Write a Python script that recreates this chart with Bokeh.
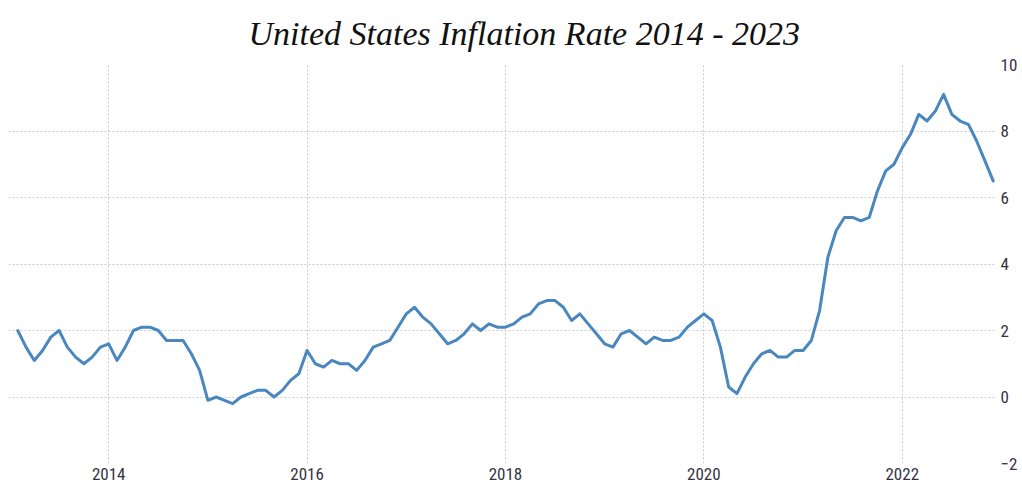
from bokeh.plotting import figure
from bokeh.models import Range1d, FixedTicker
from bokeh.embed import file_html
from bokeh.resources import INLINE

# Monthly US CPI inflation rate (%), Feb 2013 .. Dec 2022
start_year = 2013
start_month = 2
rates = [
    2.0, 1.5, 1.1, 1.4, 1.8, 2.0, 1.5, 1.2, 1.0, 1.2, 1.5,            # 2013 (Feb-Dec)
    1.6, 1.1, 1.5, 2.0, 2.1, 2.1, 2.0, 1.7, 1.7, 1.7, 1.3, 0.8,       # 2014
    -0.1, 0.0, -0.1, -0.2, 0.0, 0.1, 0.2, 0.2, 0.0, 0.2, 0.5, 0.7,    # 2015
    1.4, 1.0, 0.9, 1.1, 1.0, 1.0, 0.8, 1.1, 1.5, 1.6, 1.7, 2.1,       # 2016
    2.5, 2.7, 2.4, 2.2, 1.9, 1.6, 1.7, 1.9, 2.2, 2.0, 2.2, 2.1,       # 2017
    2.1, 2.2, 2.4, 2.5, 2.8, 2.9, 2.9, 2.7, 2.3, 2.5, 2.2, 1.9,       # 2018
    1.6, 1.5, 1.9, 2.0, 1.8, 1.6, 1.8, 1.7, 1.7, 1.8, 2.1, 2.3,       # 2019
    2.5, 2.3, 1.5, 0.3, 0.1, 0.6, 1.0, 1.3, 1.4, 1.2, 1.2, 1.4,       # 2020
    1.4, 1.7, 2.6, 4.2, 5.0, 5.4, 5.4, 5.3, 5.4, 6.2, 6.8, 7.0,       # 2021
    7.5, 7.9, 8.5, 8.3, 8.6, 9.1, 8.5, 8.3, 8.2, 7.7, 7.1, 6.5,       # 2022
]
x_ticks = [2014, 2016, 2018, 2020, 2022]
y_ticks = [-2, 0, 2, 4, 6, 8, 10]
title_text = "United States Inflation Rate 2014 - 2023"

months = [start_year + (start_month - 1 + i) / 12.0 for i in range(len(rates))]

p = figure(frame_width=988, frame_height=399, output_backend="svg", toolbar_location=None,
           x_range=Range1d(2012.99, 2022.95), y_range=Range1d(-2, 10),
           y_axis_location="right", min_border_left=8, min_border_right=0,
           min_border_top=0, min_border_bottom=0)

p.title.text = title_text
p.title.text_font = "Liberation Serif"
p.title.text_font_style = "italic"
p.title.text_font_size = "34px"
p.title.text_color = "#111111"
p.title.align = "left"
p.title.offset = 240
p.title.standoff = 25

p.line(months, rates, line_color="#4b87bf", line_width=3, line_join="round", line_cap="round")

p.outline_line_color = None
for ax in (p.xaxis, p.yaxis):
    ax.axis_line_color = None
    ax.major_tick_line_color = None
    ax.minor_tick_line_color = None
    ax.major_tick_out = 0
    ax.major_tick_in = 0
    ax.minor_tick_out = 0
    ax.minor_tick_in = 0
    ax.axis_label_standoff = 0
    ax.major_label_text_font = "Liberation Sans Narrow, Roboto Condensed, sans-serif"
    ax.major_label_text_font_size = "17px"
    ax.major_label_text_color = "#333344"
    ax.major_label_standoff = 4

p.xaxis.ticker = FixedTicker(ticks=x_ticks)
p.yaxis.ticker = FixedTicker(ticks=y_ticks)
p.xaxis.major_label_standoff = 4

for g in (p.xgrid, p.ygrid):
    g.grid_line_color = "#cccccc"
    g.grid_line_dash = "2 2"
    g.grid_line_width = 1

open("out.html", "w").write(file_html(p, INLINE))
